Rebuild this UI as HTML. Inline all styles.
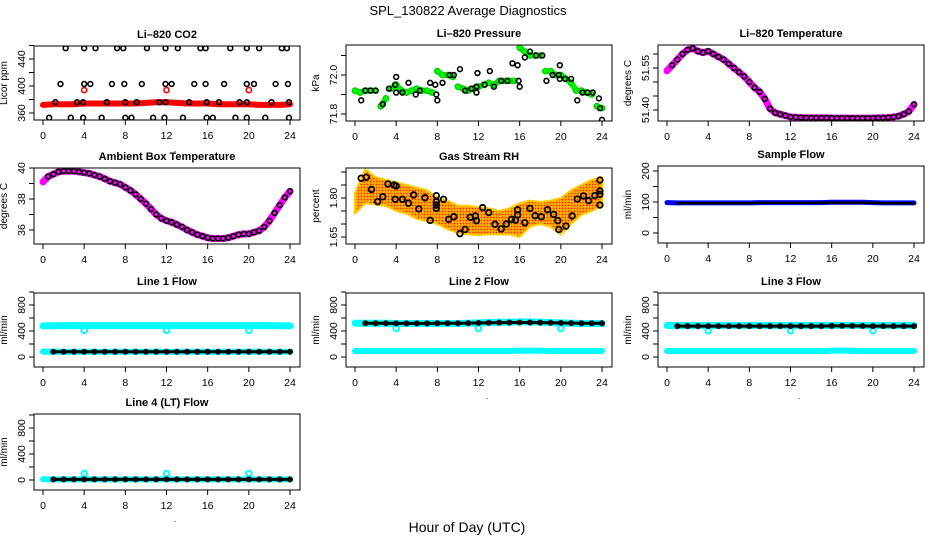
<!DOCTYPE html>
<html><head><meta charset="utf-8">
<style>
body{margin:0;background:#fff;}
svg{display:block;font-family:"Liberation Sans",sans-serif;}
.tt{font-weight:bold;font-size:11px;text-anchor:middle;}
.tk{font-size:10.5px;text-anchor:middle;}
</style></head>
<body>
<svg id="chart" width="936" height="540" viewBox="0 0 936 540">
<text x="468" y="15" font-size="13" text-anchor="middle">SPL_130822  Average Diagnostics</text>
<text x="467" y="532" font-size="14" text-anchor="middle">Hour of Day (UTC)</text>
</svg>
<script>
// ---------- data ----------
const H49=[0,0.5,1,1.5,2,2.5,3,3.5,4,4.5,5,5.5,6,6.5,7,7.5,8,8.5,9,9.5,10,10.5,11,11.5,12,12.5,13,13.5,14,14.5,15,15.5,16,16.5,17,17.5,18,18.5,19,19.5,20,20.5,21,21.5,22,22.5,23,23.5,24];
const H25=[0,1,2,3,4,5,6,7,8,9,10,11,12,13,14,15,16,17,18,19,20,21,22,23,24];
const outlierHours=[4,12,20];
// CO2
const co2Red=[372,373,373,373,374,374,374,374,374,374,375,376,376,375,374,374,374,373,373,373,373,372,372,372,373];
const co2RedOutliers=[394,394,394];
const co2HiHours=[2.2,4.0,5.1,7.2,7.8,10.1,11.9,13.1,15.3,15.8,18.2,19.8,21.0,23.2,23.7];
const co2HiVals=[456,456,456,456,456,456,456,456,456,456,456,456,456,456,456];
const co2MidHours=[1.7,4.0,4.6,6.7,7.9,9.6,11.9,12.5,14.7,15.8,17.6,19.8,20.5,22.6,23.8];
const co2MidVals=[403,403,403,403,403,403,403,403,403,403,403,403,403,403,403];
const co2LowHours=[1.2,3.3,3.9,6.2,8.0,9.1,11.3,11.9,14.2,15.9,17.1,19.1,19.8,22.2,23.9];
const co2LowVals=[376,376,376,376,376,376,376,376,376,376,376,376,376,376,376];
const co2MinHours=[0.6,2.7,3.9,5.7,8.0,8.6,10.7,11.8,13.6,15.9,16.5,18.7,19.8,21.6,23.9];
const co2MinVals=[353,353,353,353,353,353,353,353,353,353,353,353,353,353,353];
// Pressure
const presGreen=[71.92,71.91,71.92,71.92,71.92,71.84,71.88,71.93,71.95,71.92,71.91,71.92,71.93,71.92,71.92,71.91,72.02,72.0,72.0,71.99,71.94,71.93,71.92,71.93,71.94,71.95,71.96,71.95,71.97,71.97,71.97,71.97,72.14,72.12,72.10,72.10,72.10,72.02,72.02,72.0,72.0,71.98,71.96,71.92,71.92,71.91,71.90,71.84,71.83];
const presBlackHours=[0.6,1,1.5,2,2.7,3.3,3.9,4,4,4.6,5.2,5.9,6.3,7.3,7.8,7.9,8,8.5,9.2,9.6,10.2,10.7,11.3,11.8,11.8,11.9,12.6,13.1,13.5,14.2,14.8,15.3,15.8,15.9,16,16.5,17,17.6,18.2,18.6,19.2,19.8,19.9,19.9,20.4,21,21.6,22.1,22.6,23.1,23.7,23.8,24];
const presBlackVals=[71.87,71.92,71.92,71.92,71.85,71.93,71.95,71.99,71.91,71.91,71.96,71.9,71.92,71.96,71.95,71.9,71.87,71.96,72.0,72.0,72.03,71.92,71.93,71.91,71.94,72.01,71.95,72.02,71.94,71.97,71.97,72.06,72.05,71.97,71.94,72.09,72.12,72.1,72.1,71.97,72.0,72.0,71.98,72.05,71.98,71.98,71.87,71.91,71.91,71.91,71.88,71.83,71.77];
// Li-820 temperature
const licorTemp=[51.54,51.56,51.58,51.60,51.615,51.62,51.61,51.605,51.61,51.60,51.59,51.58,51.565,51.55,51.535,51.52,51.50,51.48,51.465,51.44,51.405,51.39,51.385,51.38,51.375,51.374,51.373,51.372,51.372,51.372,51.372,51.372,51.371,51.371,51.371,51.371,51.371,51.371,51.371,51.371,51.371,51.372,51.372,51.373,51.375,51.378,51.385,51.395,51.42];
// Ambient temperature
const ambTemp=[39.1,39.45,39.6,39.75,39.8,39.8,39.8,39.75,39.7,39.65,39.55,39.45,39.3,39.15,39.05,38.95,38.75,38.55,38.3,38.0,37.7,37.35,37.0,36.75,36.6,36.5,36.35,36.2,36.0,35.85,35.7,35.6,35.5,35.45,35.45,35.45,35.5,35.6,35.7,35.75,35.75,35.85,35.95,36.2,36.6,37.1,37.6,38.1,38.5];
// RH
const rhUpper=[1.82,1.91,1.88,1.87,1.86,1.85,1.84,1.83,1.80,1.79,1.77,1.77,1.765,1.76,1.75,1.76,1.78,1.79,1.785,1.79,1.80,1.83,1.85,1.87,1.88];
const rhLower=[1.74,1.78,1.775,1.77,1.75,1.74,1.72,1.71,1.70,1.68,1.665,1.66,1.657,1.66,1.66,1.66,1.65,1.69,1.70,1.69,1.66,1.70,1.735,1.75,1.77];
const rhBlackHours=[0.6,1.1,1.6,2.2,2.7,3.2,3.8,4,3.9,4.6,5.2,5.7,6.2,6.8,7.3,7.9,7.9,7.9,7.9,8.6,9.1,9.6,10.2,10.7,11.2,11.7,11.8,12.4,13,13.6,14.2,14.7,15.2,15.6,15.8,15.8,16.5,17,17.5,18.1,18.7,19.3,19.7,19.8,20.5,21.1,21.6,22.2,22.7,23.3,23.8,23.8,23.8,23.8];
const rhBlackVals=[1.876,1.880,1.833,1.786,1.805,1.854,1.850,1.846,1.795,1.795,1.780,1.812,1.758,1.801,1.714,1.809,1.786,1.773,1.760,1.795,1.718,1.728,1.663,1.679,1.726,1.731,1.713,1.763,1.744,1.699,1.681,1.700,1.718,1.715,1.755,1.735,1.705,1.760,1.732,1.728,1.755,1.737,1.713,1.679,1.692,1.731,1.796,1.808,1.790,1.809,1.869,1.827,1.814,1.773];
// Sample flow
const sampleBlue=[98,97,97,97,97,97,97,97,97,98,98,98,98,98,98,98,99,99,99,99,98,97,97,97,97];
const sampleBlack=[97,96,96,96,96,96,96,96,96,97,97,97,97,97,97,97,98,98,98,98,97,96,96,96,95];
// Line flows
const l1CyanHi=[478,480,482,482,482,482,482,482,482,482,482,482,482,482,482,482,482,482,482,482,482,482,482,480,478];
const l1CyanLo=[82,80,80,80,80,80,80,80,80,80,80,80,80,80,80,80,80,80,80,80,80,80,80,80,80];
const l1Black=[80,80,80,80,80,80,80,80,80,80,80,80,80,80,80,80,80,80,80,80,80,80,80,80,80];
const l1Outliers=[410,410,410];
const l2CyanHi=[520,520,520,520,515,515,515,515,515,515,515,520,525,530,535,535,540,540,535,530,525,520,515,515,515];
const l2CyanLo=[92,92,92,92,92,92,92,92,94,92,92,92,92,92,92,92,98,98,96,94,92,92,92,92,92];
const l2Black=[520,520,520,520,518,518,518,518,520,520,520,522,524,526,528,530,530,530,528,526,524,522,520,520,520];
const l2Outliers=[440,440,440];
const l3CyanHi=[485,482,482,482,482,482,482,482,482,482,482,482,482,482,482,482,485,485,485,482,482,482,482,482,482];
const l3CyanLo=[92,92,92,92,92,92,92,92,94,92,92,92,92,92,92,92,98,98,96,92,92,92,92,92,92];
const l3Black=[475,475,475,475,475,475,475,475,475,475,475,475,475,475,475,475,478,478,478,476,475,475,475,475,475];
const l3Outliers=[405,405,405];
const l4Cyan=[12,10,10,10,10,10,10,10,10,10,10,10,10,10,10,10,10,10,10,10,10,10,10,10,10];
const l4Black=[10,10,10,10,10,10,10,10,10,10,10,10,10,10,10,10,10,10,10,10,10,10,10,10,10];
const l4Outliers=[100,100,100];

// ---------- drawing ----------
const svg=document.getElementById('chart');
const NS='http://www.w3.org/2000/svg';
function mk(tag,attrs,parent){const e=document.createElementNS(NS,tag);for(const k in attrs)e.setAttribute(k,attrs[k]);(parent||svg).appendChild(e);return e;}

function makePanel(p){
  const g=mk('g',{});
  
  
  const W=266;
  const xs=h=>p.left+9+h*247/24;
  const ys=v=>p.y0px+(v-p.y0)*(p.y1px-p.y0px)/(p.y1-p.y0);
  p.xs=xs;p.ys=ys;p.g=g;
  const t=mk('text',{x:p.left+W/2,y:p.top-8,class:'tt'},g);t.textContent=p.title;
  
  
  for(let h=0;h<=24;h+=4){
    mk('line',{x1:xs(h),x2:xs(h),y1:p.bottom,y2:p.bottom+5,stroke:'#000'},g);
    const l=mk('text',{x:xs(h),y:p.bottom+19,class:'tk'},g);l.textContent=h;
    
    
  }
  mk('text',{x:p.left+141,y:p.bottom+32,'font-size':9,'text-anchor':'middle'},g).textContent='.';
  p.ticks.forEach(v=>mk('line',{x1:p.left-5,x2:p.left,y1:ys(v),y2:ys(v),stroke:'#000'},g));
  p.labels.forEach(v=>{
    const y=ys(parseFloat(v));
    const l=mk('text',{x:p.left-9,y:y,class:'tk',transform:`rotate(-90 ${p.left-9} ${y})`},g);l.textContent=v;
    
    
  });
  const yl=mk('text',{x:p.left-27,y:(p.top+p.bottom)/2,'font-size':10,'text-anchor':'middle',transform:`rotate(-90 ${p.left-27} ${(p.top+p.bottom)/2})`},g);
  yl.textContent=p.ylab;
  
  
  const cid='c'+p.name;
  const cp=mk('clipPath',{id:cid},g);mk('rect',{x:p.left,y:p.top,width:W,height:p.bottom-p.top},cp);
  p.plot=mk('g',{'clip-path':`url(#${cid})`},g);
  p.finish=()=>{const b=mk('rect',{x:p.left,y:p.top,width:W,height:p.bottom-p.top,fill:'none',stroke:'#000','stroke-width':1},g);
    
    };
  return p;
}
function line(p,hours,vals,color,w,name,breakAt){
  let segs=[[]];
  hours.forEach((h,i)=>{if(breakAt&&i>0&&Math.abs(vals[i]-vals[i-1])>breakAt)segs.push([]);segs[segs.length-1].push(p.xs(h)+','+p.ys(vals[i]));});
  segs.forEach(s=>{const e=mk('polyline',{points:s.join(' '),fill:'none',stroke:color,'stroke-width':w,'stroke-linejoin':'round','stroke-linecap':'round'},p.plot);
    
    });
}
function pts(p,hours,vals,color,r,name,sw){
  hours.forEach((h,i)=>{const c=mk('circle',{cx:p.xs(h),cy:p.ys(vals[i]),r:r||2.6,fill:'none',stroke:color,'stroke-width':sw||1.6},p.plot);
    
    });
}

let p=makePanel({name:'co2-panel',title:'Li–820 CO2',left:34,top:46,bottom:120,y0:360,y0px:113,y1:440,y1px:59,ticks:[360,380,400,420,440,460],labels:['360','400','440'],ylab:'Licor ppm'});
line(p,H25,co2Red,'#ff0000',6,'co2-red-series');
pts(p,outlierHours,co2RedOutliers,'#ff0000',2.6,'co2-red-outlier');
pts(p,co2HiHours,co2HiVals,'#000',2.4,'co2-point');
pts(p,co2MidHours,co2MidVals,'#000',2.4,'co2-point');
pts(p,co2LowHours,co2LowVals,'#000',2.4,'co2-point');
pts(p,co2MinHours,co2MinVals,'#000',2.4,'co2-point');
p.finish();

p=makePanel({name:'pressure-panel',title:'Li–820 Pressure',left:346,top:45,bottom:121,y0:71.8,y0px:114,y1:72.0,y1px:75,ticks:[71.8,71.9,72.0,72.1],labels:['71.8','72.0'],ylab:'kPa'});
line(p,H49,presGreen,'#00ff00',6,'pressure-green-series',0.04);
pts(p,H49,presGreen,'#00cc00',2.8,'pressure-green-point',1.2);
pts(p,presBlackHours,presBlackVals,'#000',2.4,'pressure-point');
p.finish();

p=makePanel({name:'licor-temp-panel',title:'Li–820 Temperature',left:658,top:45,bottom:121,y0:51.40,y0px:110,y1:51.55,y1px:68,ticks:[51.40,51.45,51.50,51.55,51.60],labels:['51.40','51.55'],ylab:'degrees C'});
line(p,H49,licorTemp,'#ff00ff',7,'licor-temp-series');
pts(p,H49.slice(1),licorTemp.slice(1),'#000',2.4,'licor-temp-point');
p.finish();

p=makePanel({name:'ambient-temp-panel',title:'Ambient Box Temperature',left:34,top:168,bottom:244,y0:36,y0px:230,y1:40,y1px:168,ticks:[36,37,38,39,40],labels:['36','38','40'],ylab:'degrees C'});
line(p,H49,ambTemp,'#ff00ff',7,'ambient-temp-series');
pts(p,H49.slice(1),ambTemp.slice(1),'#000',2.4,'ambient-temp-point');
p.finish();

p=makePanel({name:'rh-panel',title:'Gas Stream RH',left:346,top:168,bottom:244,y0:1.65,y0px:237,y1:1.80,y1px:198,ticks:[1.65,1.70,1.75,1.80,1.85,1.90],labels:['1.65','1.80'],ylab:'percent'});
{
  const defs=mk('defs',{},p.g);const pat=mk('pattern',{id:'rhpat',width:3,height:3,patternUnits:'userSpaceOnUse'},defs);
  mk('rect',{width:3,height:3,fill:'#ffb000'},pat);mk('circle',{cx:1.5,cy:1.5,r:0.9,fill:'#e83000'},pat);
  const up=H25.map((h,i)=>p.xs(h)+','+p.ys(rhUpper[i]));
  const lo=H25.map((h,i)=>p.xs(h)+','+p.ys(rhLower[i])).reverse();
  const poly=mk('polygon',{points:up.concat(lo).join(' '),fill:'url(#rhpat)',stroke:'#ffcc00','stroke-width':2,'stroke-linejoin':'round'},p.plot);
  
  
}
pts(p,rhBlackHours,rhBlackVals,'#000',2.8,'rh-point',1.8);
p.finish();

p=makePanel({name:'sample-flow-panel',title:'Sample Flow',left:658,top:166,bottom:243,y0:0,y0px:233,y1:200,y1px:171,ticks:[0,50,100,150,200],labels:['0','100','200'],ylab:'ml/min'});
line(p,H25,sampleBlue,'#0000ff',5,'sample-flow-blue');
line(p,H25.slice(1),sampleBlack.slice(1),'#000',2.5,'sample-flow-black');
p.finish();

function flowPanel(name,title,left,top,bottom,zeroPx){
  return makePanel({name,title,left,top,bottom,y0:0,y0px:zeroPx,y1:800,y1px:zeroPx-52,ticks:[0,200,400,600,800,1000],labels:['0','400','800'],ylab:'ml/min'});
}
p=flowPanel('line1-flow-panel','Line 1 Flow',34,293,367,357);
line(p,H25,l1CyanHi,'#00ffff',7,'line1-cyan-high');
line(p,H25,l1CyanLo,'#00ffff',6,'line1-cyan-low');
pts(p,outlierHours,l1Outliers,'#00ffff',2.8,'line1-cyan-outlier',2);
line(p,H25.slice(1),l1Black.slice(1),'#000',3,'line1-black');
pts(p,H25.slice(1),l1Black.slice(1),'#000',2.3,'line1-black-point',1.4);
p.finish();

p=flowPanel('line2-flow-panel','Line 2 Flow',346,293,367,357);
line(p,H25,l2CyanHi,'#00ffff',7,'line2-cyan-high');
line(p,H25,l2CyanLo,'#00ffff',6,'line2-cyan-low');
pts(p,outlierHours,l2Outliers,'#00ffff',2.8,'line2-cyan-outlier',2);
line(p,H25.slice(1),l2Black.slice(1),'#000',3,'line2-black');
pts(p,H25.slice(1),l2Black.slice(1),'#000',2.3,'line2-black-point',1.4);
p.finish();

p=flowPanel('line3-flow-panel','Line 3 Flow',658,293,367,357);
line(p,H25,l3CyanHi,'#00ffff',7,'line3-cyan-high');
line(p,H25,l3CyanLo,'#00ffff',6,'line3-cyan-low');
pts(p,outlierHours,l3Outliers,'#00ffff',2.8,'line3-cyan-outlier',2);
line(p,H25.slice(1),l3Black.slice(1),'#000',3,'line3-black');
pts(p,H25.slice(1),l3Black.slice(1),'#000',2.3,'line3-black-point',1.4);
p.finish();

p=flowPanel('line4-flow-panel','Line 4 (LT) Flow',34,414,490,480);
line(p,H25,l4Cyan,'#00ffff',6,'line4-cyan');
pts(p,outlierHours,l4Outliers,'#00ffff',2.8,'line4-cyan-outlier',2);
line(p,H25.slice(1),l4Black.slice(1),'#000',3,'line4-black');
pts(p,H25.slice(1),l4Black.slice(1),'#000',2.3,'line4-black-point',1.4);
p.finish();
</script>
</body></html>
